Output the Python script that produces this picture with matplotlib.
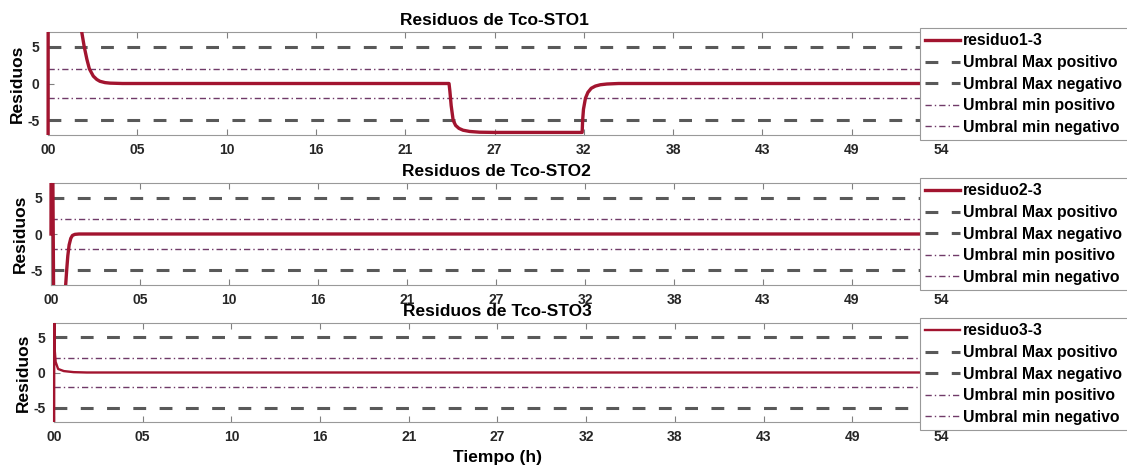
import matplotlib
matplotlib.use('Agg')
import matplotlib.pyplot as plt
from matplotlib.transforms import Bbox, TransformedBbox

plt.rcParams['font.family'] = ['Liberation Sans', 'DejaVu Sans']
plt.rcParams['font.weight'] = 'bold'

# Datos (tiempo en horas, residuo)
t1 = [0, 0.02, 1.5, 1.8, 2.04, 2.19, 2.35, 2.5, 2.74, 2.95, 3.14, 3.45, 3.75, 4.5,
      24.25, 24.3, 24.38, 24.5, 24.65, 24.85, 25.1, 25.5, 26.1, 27.0, 32.3,
      32.33, 32.38, 32.5, 32.65, 32.85, 33.1, 33.4, 33.8, 34.5, 54]
r1 = [-40, 60, 14, 10, 7, 5, 3.3, 2, 1, 0.55, 0.3, 0.12, 0.05, 0.0,
      0.0, -1, -3, -5, -5.7, -6.1, -6.35, -6.52, -6.62, -6.65, -6.65,
      -5, -3.5, -2, -1.2, -0.65, -0.35, -0.17, -0.07, 0.0, 0.0]

t2 = [0, 0.02, 0.25, 0.8, 0.89, 0.95, 1.02, 1.1, 1.2, 1.3, 1.45, 1.7, 54]
r2 = [0, 40, -40, -12, -7, -5, -3, -1.5, -0.6, -0.2, -0.05, 0.0, 0.0]

t3 = [0, 0.02, 0.05, 0.1, 0.25, 0.6, 1.2, 2.0, 54]
r3 = [-40, 40, 3, 1.5, 0.5, 0.2, 0.05, 0.0, 0.0]

umbral_max = 5
umbral_min = 2

tick_pos = [0, 5.4, 10.8, 16.2, 21.6, 27, 32.4, 37.8, 43.2, 48.6, 54]
tick_lab = ['00', '05', '10', '16', '21', '27', '32', '38', '43', '49', '54']

series = [(t1, r1, 'residuo1-3', 'Residuos de Tco-STO1'),
          (t2, r2, 'residuo2-3', 'Residuos de Tco-STO2'),
          (t3, r3, 'residuo3-3', 'Residuos de Tco-STO3')]

W, H = 1127, 466
fig = plt.figure(figsize=(W / 100, H / 100), dpi=100)

# posiciones en pixeles: (izq, der, arriba, abajo, arriba leyenda)
pos = [(48, 941, 32, 135, 28), (51, 941, 183, 285, 178), (54, 941, 323, 422, 318)]

rojo = '#A2142F'
gris = '#595959'
morado = '#703A68'

for (t, r, nombre, titulo), (x0, x1, y0, y1, yl) in zip(series, pos):
    ax = fig.add_axes([x0 / W, 1 - y1 / H, (x1 - x0) / W, (y1 - y0) / H])
    lw_res = 1.7 if nombre == 'residuo3-3' else 2.4
    linea, = ax.plot(t, r, color=rojo, lw=lw_res, label=nombre, zorder=3)
    # dejar ver el trazo completo sobre el borde izquierdo, como en MATLAB
    caja = Bbox.from_extents((x0 - 3) / W, 1 - y1 / H, x1 / W, 1 - y0 / H)
    linea.set_clip_box(TransformedBbox(caja, fig.transFigure))
    ax.axhline(umbral_max, color=gris, lw=2.2, ls=(0, (4.2, 4.4)),
               label='Umbral Max positivo')
    ax.axhline(-umbral_max, color=gris, lw=2.2, ls=(0, (4.2, 4.4)),
               label='Umbral Max negativo')
    ax.axhline(umbral_min, color=morado, lw=1.0, ls=(0, (4.5, 2.2, 1.0, 2.2)),
               label='Umbral min positivo')
    ax.axhline(-umbral_min, color=morado, lw=1.0, ls=(0, (4.5, 2.2, 1.0, 2.2)),
               label='Umbral min negativo')
    ax.set_xlim(0, 54)
    ax.set_ylim(-7, 7)
    ax.set_xticks(tick_pos)
    ax.set_xticklabels(tick_lab)
    ax.set_yticks([-5, 0, 5])
    ax.set_yticklabels(['-5', '0', '5'])
    ax.tick_params(direction='in', top=True, right=True, length=4, width=0.8,
                   color='#808080', labelcolor='#262626', labelsize=10, pad=6)
    for lbl in ax.get_xticklabels() + ax.get_yticklabels():
        lbl.set_fontweight('bold')
    for s in ax.spines.values():
        s.set_color('#999999')
        s.set_linewidth(0.8)
    ax.set_title(titulo, fontsize=12.5, fontweight='bold', pad=5)
    ax.set_ylabel('Residuos', fontsize=12.5, fontweight='bold', labelpad=2)
    leg = ax.legend(loc='upper left', bbox_to_anchor=(920 / W, 1 - yl / H),
                    bbox_transform=fig.transFigure, fancybox=False,
                    framealpha=1, edgecolor='#999999', fontsize=11.3,
                    handlelength=2.2, handletextpad=0.2, labelspacing=0.42,
                    borderpad=0.35, borderaxespad=0)
    leg.get_frame().set_linewidth(0.8)
    leg.set_zorder(5)
    for txt in leg.get_texts():
        txt.set_fontweight('bold')

ax.set_xlabel('Tiempo (h)', fontsize=12.5, fontweight='bold', labelpad=4)

fig.savefig('out.png', dpi=100)
